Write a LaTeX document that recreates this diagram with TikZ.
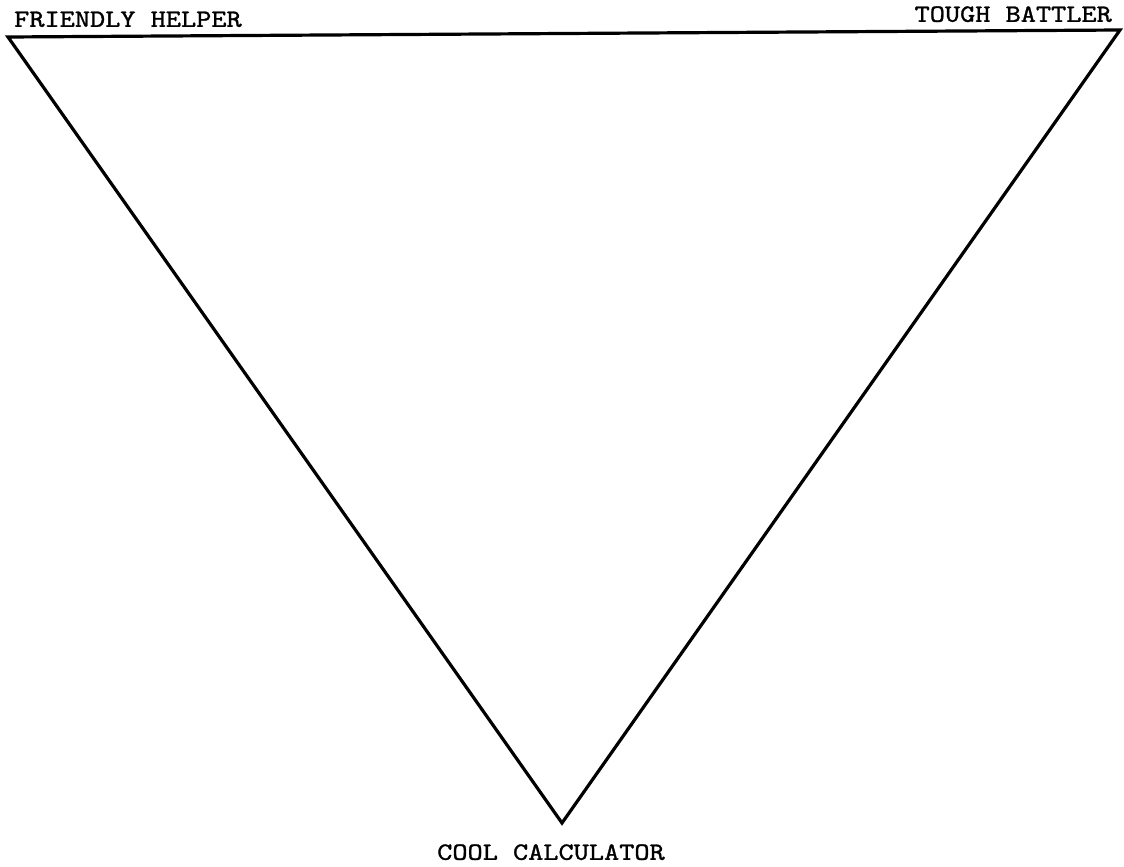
\documentclass[tikz,border=0pt]{standalone}
\usepackage{fontspec}
\newfontfamily\typew[FakeStretch=1.16,FakeBold=1.2]{lmmono10-regular.otf}
\begin{document}
\begin{tikzpicture}[x=1bp,y=-1bp,
  edge/.style={line width=3.2bp, line join=miter, line cap=round},
  lbl/.style={font=\typew\fontsize{25}{25}\selectfont, inner sep=0pt, text height=15bp, text depth=0pt}]
\useasboundingbox (0,0) rectangle (1124,867);
\coordinate (fh) at (8,37);
\coordinate (tb) at (1120,30);
\coordinate (cc) at (562,823);
\draw[edge] (fh) -- (tb) -- (cc) -- cycle;
\node[lbl, anchor=south west] (lfh) at (14,27) {FRIENDLY HELPER};
\node[lbl, anchor=south east] (ltb) at (1112,22) {TOUGH BATTLER};
\node[lbl, anchor=south] (lcc) at (551,860) {COOL CALCULATOR};
\end{tikzpicture}
\end{document}
